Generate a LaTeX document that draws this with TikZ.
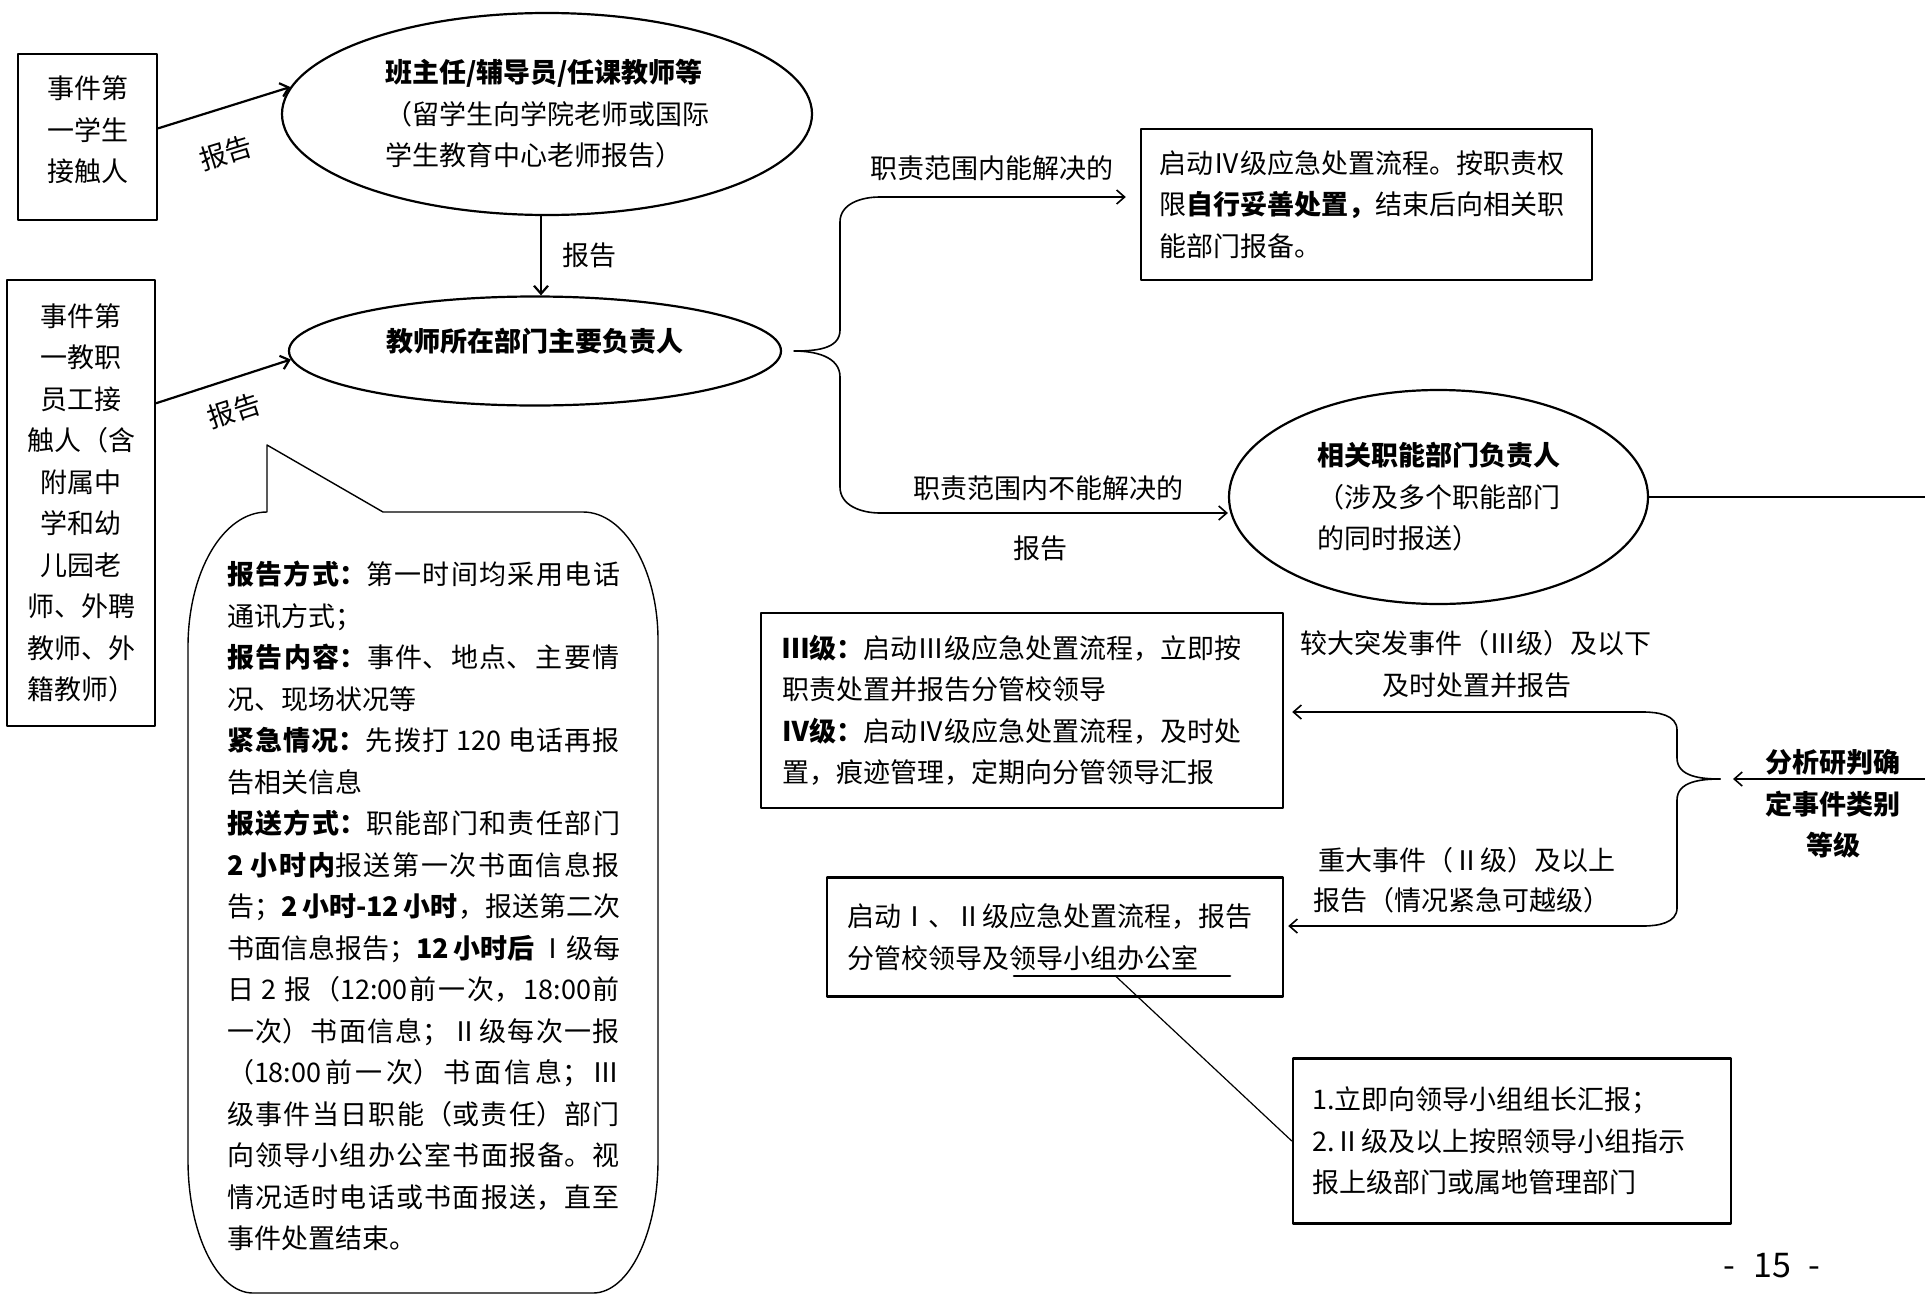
\documentclass[tikz,border=0pt]{standalone}
\usepackage{fontspec}
\setmainfont{Noto Sans CJK SC}
\usetikzlibrary{shapes.geometric,arrows.meta,calc}
\XeTeXlinebreaklocale "zh"
\XeTeXlinebreakskip=0pt plus 2pt
\XeTeXlinebreakpenalty=10000
\def\tf{\fontsize{13.5}{20.75}\selectfont}
\tikzset{
  box/.style={draw,line width=1.2pt,inner sep=0pt,align=left},
  oval/.style={draw,ellipse,line width=1.1pt,inner sep=0pt,align=left},
  link/.style={->,line width=1.1pt},
  brace/.style={->,line width=0.8pt},
  lbl/.style={inner sep=0pt},
}
\begin{document}
\begin{tikzpicture}[x=0.5pt,y=-0.5pt,font=\tf,line join=round,line cap=round,>={Straight Barb[length=4pt,width=7pt]}]
\def\W{1925} \def\H{1295} % frame in px
\useasboundingbox (0,0) rectangle (\W,\H);

% left side
\node[box,minimum width=69.5pt,minimum height=83pt,label={[align=center,yshift=3.5pt]center:事件第\\一学生\\接触人}] (stu) at (87.5,137) {};
\node[box,align=center,minimum width=74pt,minimum height=223pt] (staff) at (81,503) {事件第\\一教职\\员工接\\触人（含\\附属中\\学和幼\\儿园老\\师、外聘\\教师、外\\籍教师）};
\node[oval,minimum width=265pt,minimum height=101pt] (tutor) at (547,114) {\textbf{班主任/辅导员/任课教师等}\\（留学生向学院老师或国际\\学生教育中心老师报告）};
\node[oval,align=center,minimum width=246pt,minimum height=54.5pt,font=\tf\bfseries,text height=11.5pt,text depth=11.5pt] (head) at (535,351) {教师所在部门主要负责人};

\draw[link] (stu.7) -- (tutor.174);
\node[lbl,rotate=17] (repA) at (226,153) {报告};
\draw[link] (staff.53.5) -- (head.182);
\node[lbl,rotate=18] (repB) at (234,411) {报告};
\draw[link] ([xshift=-3pt]tutor.south) -- node[right=10pt,lbl]{报告} ([xshift=-3pt]tutor.south |- head.north);

% right side
\node[box,text width=207pt,minimum width=225.5pt,minimum height=75.5pt] (self) at (1366.5,204.5) {启动Ⅳ级应急处置流程。按职责权\\限\textbf{自行妥善处置，}结束后向相关职\\能部门报备。};
\node[oval,minimum width=209.5pt,minimum height=107pt] (dept) at (1438.5,497) {\textbf{相关职能部门负责人}\\（涉及多个职能部门\\的同时报送）};
\node[box,text width=240pt,minimum width=261pt,minimum height=97.5pt] (lvlC) at (1022,710.5) {\textbf{Ⅲ级：}启动Ⅲ级应急处置流程，立即按\\职责处置并报告分管校领导\\\textbf{Ⅳ级：}启动Ⅳ级应急处置流程，及时处\\置，痕迹管理，定期向分管领导汇报};
\node[box,text width=208pt,minimum width=228pt,minimum height=59.5pt] (lvlA) at (1055,937) {启动Ⅰ、Ⅱ级应急处置流程，报告\\分管校领导及领导小组办公室};
\node[box,text width=200pt,minimum width=219pt,minimum height=82.5pt] (report) at (1512,1141) {1.立即向领导小组组长汇报；\\2.Ⅱ级及以上按照领导小组指示\\报上级部门或属地管理部门};
\node[align=center,font=\tf\bfseries] (judge) at (1833,804) {分析研判确\\定事件类别\\等级};

\node[lbl] (okL) at (992,168) {职责范围内能解决的};
\node[lbl] (noL) at (1048,488) {职责范围内不能解决的};
\node[lbl] (noR) at (1040,548) {报告};
\node[lbl] (minL) at (1476,643) {较大突发事件（Ⅲ级）及以下};
\node[lbl] (minR) at (1477,685) {及时处置并报告};
\node[lbl] (majL) at (1467,860) {重大事件（Ⅱ级）及以上};
\node[lbl] (majR) at (1462,900) {报告（情况紧急可越级）};

% braces
\coordinate (lcusp) at ([xshift=6pt]head.east);
\coordinate (ltop) at (880,197);
\coordinate (lbot) at (880,513);
\draw[brace,shorten >=7pt] (lcusp) to[out=0,in=-90] (840,330) -- (840,222) to[out=90,in=180] (ltop) -- (ltop -| self.west);
\draw[brace] (lcusp) to[out=0,in=90] (840,377) -- (840,487) to[out=-90,in=180] (lbot) -- (lbot -| dept.west);

\coordinate (rcusp) at (1720,779);
\coordinate (rtop) at (1643,712);
\coordinate (rbot) at (1643,926);
\coordinate (redge) at (\W,779);
\draw[brace,shorten >=6.5pt] (redge) -- (rcusp);
\draw[brace,shorten >=4pt] (rcusp) to[out=180,in=-90] (1677,758) -- (1677,730) to[out=90,in=0] (rtop) -- (rtop -| lvlC.east);
\draw[brace,shorten >=2pt] (rcusp) to[out=180,in=90] (1677,800) -- (1677,908) to[out=-90,in=0] (rbot) -- (rbot -| lvlA.east);
\draw[line width=0.9pt] (dept.east) -- (dept.east -| redge);

% callout
\coordinate (ulA) at (1014,976);
\coordinate (ulB) at (1230,976);
\draw[line width=1.3pt] (ulA) -- (ulB);
\draw[line width=0.6pt] ($(ulA)!0.47!(ulB)$) -- (report.west);

% speech bubble
\draw[line width=0.7pt] (267,445) -- (383,512) -- (583,512) .. controls (624,512) and (658,569) .. (658,640) -- (658,1160) .. controls (658,1233) and (629,1293) .. (593,1293) -- (253,1293) .. controls (217,1293) and (188,1233) .. (188,1160) -- (188,647) .. controls (188,572) and (223,512) .. (267,512) -- cycle;
\node[text width=196.5pt,align=justify,inner sep=0pt] (rules) at (423.5,906) {%
\textbf{报告方式：}第一时间均采用电话\linebreak
通讯方式；\par
\textbf{报告内容：}事件、地点、主要情\linebreak
况、现场状况等\par
\textbf{紧急情况：}先拨打~120~电话再报\linebreak
告相关信息\par
\textbf{报送方式：}职能部门和责任部门\linebreak
\textbf{2~小时内}报送第一次书面信息报\linebreak
告；\textbf{2~小时-12~小时}，报送第二次\linebreak
书面信息报告；\textbf{12~小时后}~Ⅰ级每\linebreak
日~2~报（12:00前一次，18:00前\linebreak
一次）书面信息；Ⅱ级每次一报\linebreak
（18:00前一次）书面信息；Ⅲ\linebreak
级事件当日职能（或责任）部门\linebreak
向领导小组办公室书面报备。视\linebreak
情况适时电话或书面报送，直至\linebreak
事件处置结束。};

\node (pageno) at (1772,1266) {\fontsize{17}{20}\selectfont -\hspace{9pt}15\hspace{9pt}-};
\end{tikzpicture}
\end{document}
